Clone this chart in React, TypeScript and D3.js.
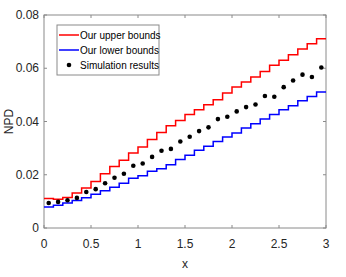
import * as d3 from 'd3';
import { useEffect } from 'react';

// values per 0.1-wide step on x in [0, 3]
const upperBounds = [
  0.0111, 0.0108, 0.0115, 0.0131, 0.0150, 0.0175, 0.0204, 0.0231, 0.0254, 0.0282,
  0.0304, 0.0332, 0.0359, 0.0384, 0.0404, 0.0426, 0.0444, 0.0463, 0.0482, 0.0507,
  0.0530, 0.0548, 0.0567, 0.0588, 0.0611, 0.0630, 0.0651, 0.0672, 0.0692, 0.0711,
];
const lowerBounds = [
  0.0079, 0.0085, 0.0094, 0.0103, 0.0114, 0.0127, 0.0140, 0.0153, 0.0168, 0.0187,
  0.0196, 0.0213, 0.0223, 0.0238, 0.0257, 0.0273, 0.0292, 0.0307, 0.0325, 0.0342,
  0.0357, 0.0376, 0.0392, 0.0409, 0.0426, 0.0444, 0.0459, 0.0478, 0.0494, 0.0511,
];
const simulation = [
  0.0094, 0.0098, 0.0104, 0.0113, 0.0135, 0.0146, 0.0168, 0.0189, 0.0204, 0.0234,
  0.0242, 0.0267, 0.0290, 0.0297, 0.0325, 0.0343, 0.0364, 0.0378, 0.0409, 0.0418,
  0.0438, 0.0454, 0.0464, 0.0496, 0.0493, 0.0529, 0.0554, 0.0576, 0.0567, 0.0603,
];
const xTicks = [0, 0.5, 1, 1.5, 2, 2.5, 3];
const yTicks = [0, 0.02, 0.04, 0.06, 0.08];
const legendItems = ['Our upper bounds', 'Our lower bounds', 'Simulation results'];

const width = 346, height = 277;
const margin = { top: 15, right: 20, bottom: 49, left: 44 };
const axisColor = '#8a8a8a';
const font = 'Liberation Sans, Arial, sans-serif';

function App() {
  useEffect(() => {
    document.body.style.margin = '0';
  }, []);

  const x = d3.scaleLinear().domain([0, 3]).range([margin.left, width - margin.right]);
  const y = d3.scaleLinear().domain([0, 0.08]).range([height - margin.bottom, margin.top]);

  const stepPoints = (vals: number[]) => {
    const pts: [number, number][] = vals.map((v, i) => [i * 0.1, v]);
    pts.push([vals.length * 0.1, vals[vals.length - 1]]);
    return pts;
  };
  const line = d3.line<[number, number]>()
    .x(d => x(d[0]))
    .y(d => y(d[1]))
    .curve(d3.curveStepAfter);

  const x0 = x(0), x1 = x(3), y0 = y(0), y1 = y(0.08);
  const tickLen = 3;

  return (
    <svg width={width} height={height} style={{ display: 'block', background: '#fff' }}>
      {/* box */}
      <rect x={x0} y={y1} width={x1 - x0} height={y0 - y1} fill="none" stroke={axisColor} strokeWidth={1} />

      {xTicks.map(t => (
        <g key={'x' + t}>
          <line x1={x(t)} x2={x(t)} y1={y0} y2={y0 - tickLen} stroke={axisColor} />
          <line x1={x(t)} x2={x(t)} y1={y1} y2={y1 + tickLen} stroke={axisColor} />
          <text x={x(t)} y={y0 + 19.5} textAnchor="middle" fontFamily={font} fontSize={12} fill="#262626">
            {d3.format('~g')(t)}
          </text>
        </g>
      ))}
      {yTicks.map(t => (
        <g key={'y' + t}>
          <line x1={x0} x2={x0 + tickLen} y1={y(t)} y2={y(t)} stroke={axisColor} />
          <line x1={x1} x2={x1 - tickLen} y1={y(t)} y2={y(t)} stroke={axisColor} />
          <text x={x0 - 5} y={y(t) + 4} textAnchor="end" fontFamily={font} fontSize={12} fill="#262626">
            {t === 0 ? '0' : t.toFixed(2)}
          </text>
        </g>
      ))}

      <path d={line(stepPoints(upperBounds)) ?? ''} fill="none" stroke="#ff0000" strokeWidth={1.5} />
      <path d={line(stepPoints(lowerBounds)) ?? ''} fill="none" stroke="#0000ff" strokeWidth={1.5} />
      {simulation.map((v, i) => (
        <circle key={i} cx={x(i * 0.1 + 0.05)} cy={y(v)} r={2.3} fill="#000" />
      ))}

      <text x={(x0 + x1) / 2} y={height - 9} textAnchor="middle" fontFamily={font} fontSize={12} fill="#262626">x</text>
      <text transform={`translate(13, ${(y0 + y1) / 2}) rotate(-90)`} textAnchor="middle" fontFamily={font} fontSize={12} fill="#262626">NPD</text>

      {/* legend */}
      <g>
        <rect x={57} y={25} width={102} height={50} fill="#fff" stroke={axisColor} />
        {legendItems.map((label, i) => {
          const ly = 35 + i * 15;
          return (
            <g key={label}>
              {i < 2
                ? <line x1={59} x2={79} y1={ly} y2={ly} stroke={i === 0 ? '#ff0000' : '#0000ff'} strokeWidth={1.5} />
                : <circle cx={69} cy={ly} r={2.3} fill="#000" />}
              <text x={80} y={ly + 3.6} fontFamily={font} fontSize={10} fill="#000">{label}</text>
            </g>
          );
        })}
      </g>
    </svg>
  );
}

export default App;
